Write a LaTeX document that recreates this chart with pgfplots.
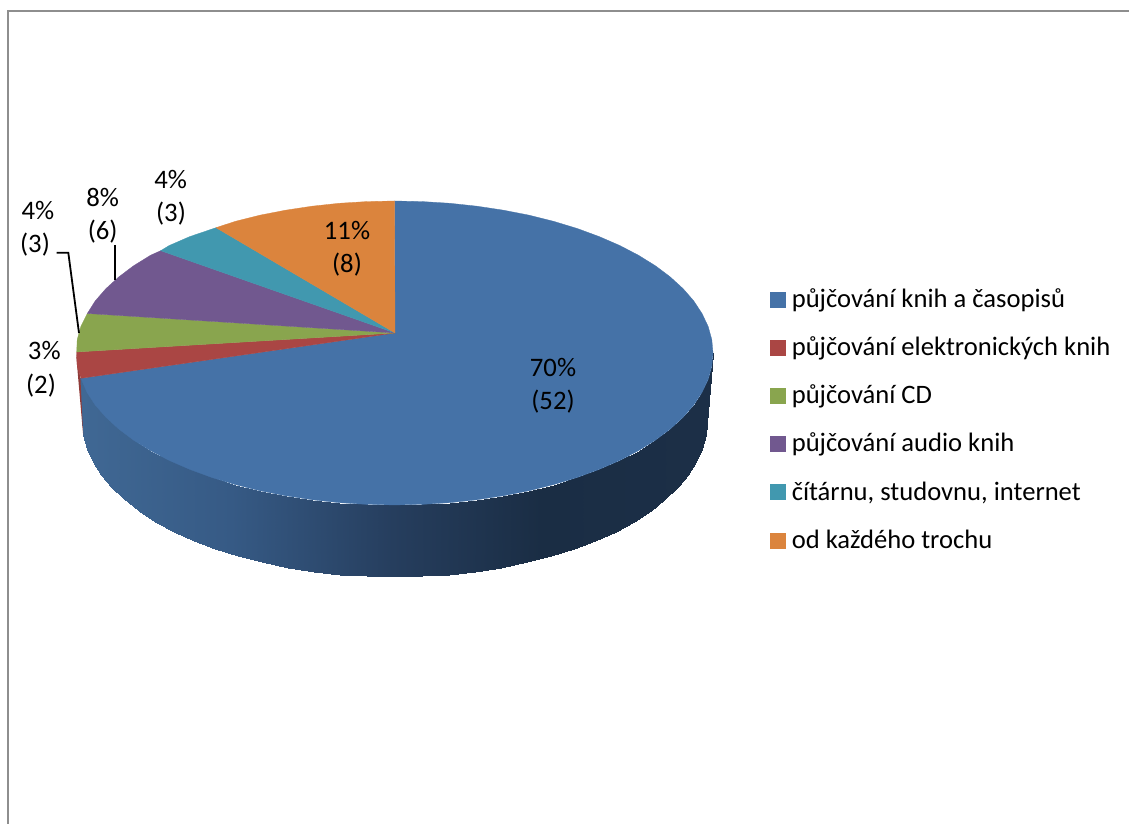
\documentclass[border=0pt]{standalone}
\usepackage{fontspec}
\setmainfont{Carlito}
\usepackage{pgfplots}
\pgfplotsset{compat=1.18}

\definecolor{cblue}{HTML}{4572A7}
\definecolor{cred}{HTML}{AA4644}
\definecolor{cgreen}{HTML}{89A54E}
\definecolor{cpurple}{HTML}{71588F}
\definecolor{cteal}{HTML}{4198AF}
\definecolor{corange}{HTML}{DB843D}
\definecolor{cframe}{HTML}{8E8E8E}

% shares: 52, 2, 3, 6, 3, 8 answers
\tikzset{lab/.style={anchor=base,inner sep=0pt,font=\fontsize{26.7}{30}\selectfont}}

\begin{document}
\begin{tikzpicture}
\begin{axis}[
  scale only axis, width=1129pt, height=824pt,
  hide axis,
  xmin=-394.5, xmax=734.5,
  ymin=-353, ymax=471, y dir=reverse,
  colormap={side}{rgb255(0cm)=(64,104,148) rgb255(1.5cm)=(54,90,133) rgb255(3.1cm)=(38,62,94) rgb255(4.6cm)=(26,45,68) rgb255(6.25cm)=(28,47,71)},
  point meta min=-313, point meta max=312.5,
  legend cell align=left,
  legend image code/.code={\draw[#1] (0pt,-7.5pt) rectangle (15pt,7.5pt);},
  legend style={at={(axis cs:375.5,-65)},anchor=north west,draw=none,fill=none,
    inner sep=0pt,row sep=25.1pt,font=\fontsize{26.6}{30}\selectfont,
    nodes={inner sep=0pt,text height=19.5pt,text depth=3.5pt},
    /tikz/column 1/.style={column sep=6.3pt}},
]
% background and chart frame
\addplot[forget plot,draw=none,fill=white] coordinates {(-394.5,-353) (734.5,-353) (734.5,471) (-394.5,471)} --cycle;
\addplot[forget plot,cframe,line width=2.2pt] coordinates {(-386.8,471) (-386.8,-342) (734.5,-342)};

% side wall, upper and lower rim
\addplot[forget plot,surf,shader=interp,mesh/cols=2,point meta=x,colormap name=side] table {
x y
318.5 0
312.5 69
317.3 13.3
311.3 82.5
313.7 26.4
307.8 95.9
307.6 39.3
301.8 109.1
299.3 52
293.7 122
288.7 64.2
283.2 134.5
275.8 76
270.6 146.5
260.9 87.2
256 157.9
244 97.7
239.4 168.6
225.2 107.5
221 178.6
204.7 116.4
200.9 187.7
182.7 124.5
179.3 196
159.3 131.6
156.3 203.2
134.6 137.8
132.1 209.5
108.9 142.8
106.9 214.7
82.4 146.8
80.9 218.7
55.3 149.7
54.3 221.6
27.8 151.4
27.3 223.4
0 152
0 224
-27.8 151.4
-27.3 223.4
-55.3 149.7
-54.3 221.6
-82.4 146.8
-80.9 218.7
-108.9 142.8
-106.9 214.7
-134.6 137.8
-132.1 209.5
-159.3 131.6
-156.3 203.2
-182.7 124.5
-179.3 196
-204.7 116.4
-200.9 187.7
-225.2 107.5
-221 178.6
-244 97.7
-239.4 168.6
-260.9 87.2
-256 157.9
-275.8 76
-270.6 146.5
-288.7 64.2
-283.2 134.5
-299.3 52
-293.7 122
-307.6 39.3
-301.8 109.1
-313.7 26.4
-307.8 95.9
-314.1 25
-311.3 82.5
};
\addplot[forget plot,draw=none,fill=cred!85!black] coordinates {(-318.5,0) (-314.1,25) (-311.3,82.5) (-312.5,69)} --cycle;

% top face
\addplot[draw=cblue,line width=0.3pt,fill=cblue] coordinates {
(0.5,-20) (0,-152) (27.8,-151.4) (55.3,-149.7) (82.4,-146.8) (108.9,-142.8) (134.6,-137.8)
(159.3,-131.6) (182.7,-124.5) (204.7,-116.4) (225.2,-107.5) (244,-97.7) (260.9,-87.2)
(275.8,-76) (288.7,-64.2) (299.3,-52) (307.6,-39.3) (313.7,-26.4) (317.3,-13.3) (318.5,0)
(317.3,13.3) (313.7,26.4) (307.6,39.3) (299.3,52) (288.7,64.2) (275.8,76) (260.9,87.2)
(244,97.7) (225.2,107.5) (204.7,116.4) (182.7,124.5) (159.3,131.6) (134.6,137.8) (108.9,142.8)
(82.4,146.8) (55.3,149.7) (27.8,151.4) (0,152) (-27.8,151.4) (-55.3,149.7) (-82.4,146.8)
(-108.9,142.8) (-134.6,137.8) (-159.3,131.6) (-182.7,124.5) (-204.7,116.4) (-225.2,107.5)
(-244,97.7) (-260.9,87.2) (-275.8,76) (-288.7,64.2) (-299.3,52) (-307.6,39.3) (-313.5,25.3)
} --cycle;
\addlegendentry{půjčování knih a časopisů}
\addplot[draw=cred,line width=0.3pt,fill=cred] coordinates {
(0.5,-20) (-313.5,25.3) (-317.3,13.3) (-317.8,-1)
} --cycle;
\addlegendentry{půjčování elektronických knih}
\addplot[draw=cgreen,line width=0.3pt,fill=cgreen] coordinates {
(0.5,-20) (-317.8,-1) (-317.3,-13.3) (-313.7,-26.4) (-307.2,-39.5)
} --cycle;
\addlegendentry{půjčování CD}
\addplot[draw=cpurple,line width=0.3pt,fill=cpurple] coordinates {
(0.5,-20) (-307.2,-39.5) (-299.3,-52) (-288.7,-64.2) (-275.8,-76) (-260.9,-87.2) (-244,-97.7) (-233.8,-102.3)
} --cycle;
\addlegendentry{půjčování audio knih}
\addplot[draw=cteal,line width=0.3pt,fill=cteal] coordinates {
(0.5,-20) (-233.8,-102.3) (-225.2,-107.5) (-204.7,-116.4) (-178.5,-125.3)
} --cycle;
\addlegendentry{čítárnu, studovnu, internet}
\addplot[draw=corange,line width=0.3pt,fill=corange] coordinates {
(0.5,-20) (-178.5,-125.3) (-159.3,-131.6) (-134.6,-137.8) (-108.9,-142.8) (-82.4,-146.8) (-55.3,-149.7) (-27.8,-151.4) (0,-152)
} --cycle;
\addlegendentry{od každého trochu}

% leader lines
\addplot[forget plot,black,line width=1.8pt] coordinates {(-338,-100.3) (-326.2,-100.3) (-315.5,-20)};
\addplot[forget plot,black,line width=1.8pt] coordinates {(-279.2,-108) (-279.2,-73)};

% data labels
\node[lab] at (axis cs:158.5,23.5) {70\%};
\node[lab] at (axis cs:158.5,56.5) {(52)};
\node[lab] at (axis cs:-47.5,-113) {11\%};
\node[lab] at (axis cs:-47.5,-80) {(8)};
\node[lab] at (axis cs:-223.8,-164) {4\%};
\node[lab] at (axis cs:-223.5,-131) {(3)};
\node[lab] at (axis cs:-291.8,-146.5) {8\%};
\node[lab] at (axis cs:-291.8,-113.5) {(6)};
\node[lab] at (axis cs:-356.5,-133) {4\%};
\node[lab] at (axis cs:-359.5,-100) {(3)};
\node[lab] at (axis cs:-350.2,6.5) {3\%};
\node[lab] at (axis cs:-353.5,40.2) {(2)};
\end{axis}
\end{tikzpicture}
\end{document}
